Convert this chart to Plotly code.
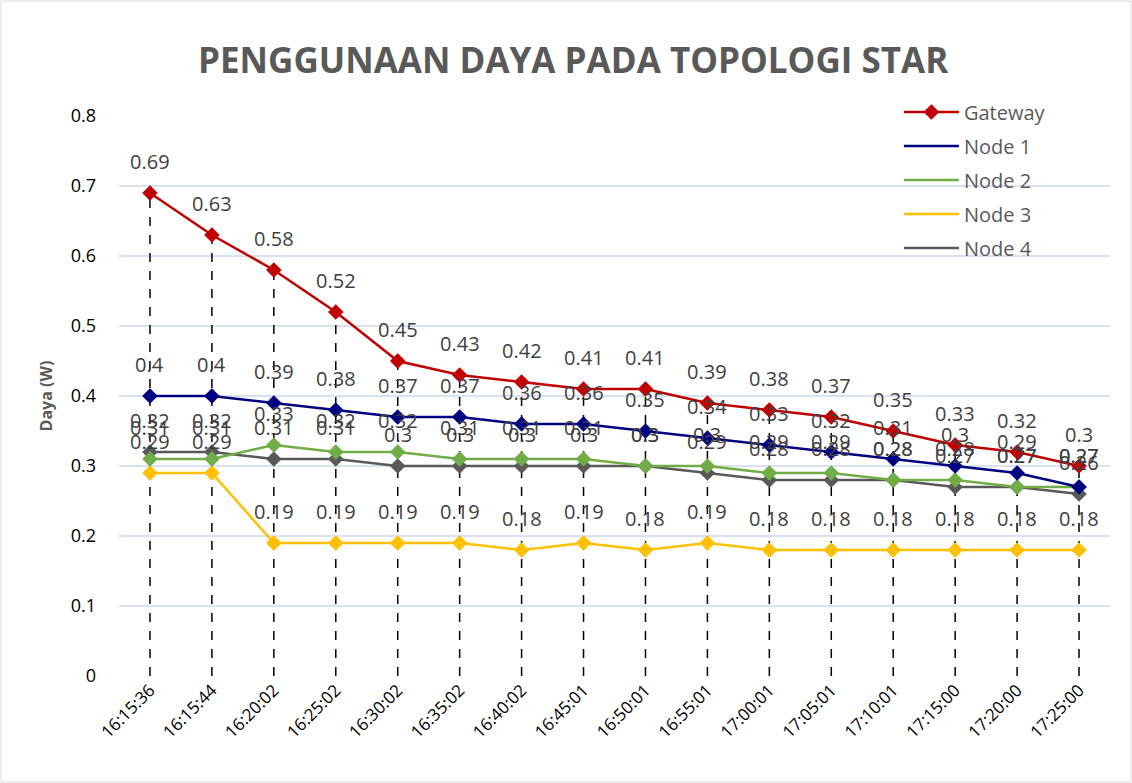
import plotly.graph_objects as go

categories = ["16:15:36", "16:15:44", "16:20:02", "16:25:02", "16:30:02", "16:35:02",
              "16:40:02", "16:45:01", "16:50:01", "16:55:01", "17:00:01", "17:05:01",
              "17:10:01", "17:15:00", "17:20:00", "17:25:00"]
gateway = [0.69, 0.63, 0.58, 0.52, 0.45, 0.43, 0.42, 0.41, 0.41, 0.39, 0.38, 0.37, 0.35, 0.33, 0.32, 0.3]
node1 = [0.4, 0.4, 0.39, 0.38, 0.37, 0.37, 0.36, 0.36, 0.35, 0.34, 0.33, 0.32, 0.31, 0.3, 0.29, 0.27]
node2 = [0.31, 0.31, 0.33, 0.32, 0.32, 0.31, 0.31, 0.31, 0.3, 0.3, 0.29, 0.29, 0.28, 0.28, 0.27, 0.27]
node3 = [0.29, 0.29, 0.19, 0.19, 0.19, 0.19, 0.18, 0.19, 0.18, 0.19, 0.18, 0.18, 0.18, 0.18, 0.18, 0.18]
node4 = [0.32, 0.32, 0.31, 0.31, 0.3, 0.3, 0.3, 0.3, 0.3, 0.29, 0.28, 0.28, 0.28, 0.27, 0.27, 0.26]
y_ticks = [0, 0.1, 0.2, 0.3, 0.4, 0.5, 0.6, 0.7, 0.8]

series = [
    ("Gateway", gateway, "#C00000"),
    ("Node 1", node1, "#000080"),
    ("Node 2", node2, "#70AD47"),
    ("Node 3", node3, "#FFC000"),
    ("Node 4", node4, "#595959"),
]

W, H = 1132, 783
ML, MR, MT, MB = 119, 22, 116, 107
FONT = "Open Sans"

fig = go.Figure()

# drop lines (from highest point down to axis)
dx, dy = [], []
for i, c in enumerate(categories):
    top = max(s[1][i] for s in series)
    dx += [c, c, None]
    dy += [0, top, None]
fig.add_trace(go.Scatter(x=dx, y=dy, mode="lines", showlegend=False, hoverinfo="skip",
                         line=dict(color="black", width=1.5, dash="dash")))

# series drawn bottom-up so Gateway on top
for name, vals, col in reversed(series):
    fig.add_trace(go.Scatter(x=categories, y=vals, mode="lines+markers", name=name,
                             showlegend=False,
                             line=dict(color=col, width=2.5),
                             marker=dict(symbol="diamond", size=12, color=col)))

# legend entries
for name, vals, col in series:
    fig.add_trace(go.Scatter(x=[None], y=[None], name=name, legendgroup=name,
                             mode="lines+markers" if name == "Gateway" else "lines",
                             line=dict(color=col, width=2.5),
                             marker=dict(symbol="diamond", size=12, color=col)))

annotations = []
for name, vals, col in series:
    for c, v in zip(categories, vals):
        annotations.append(dict(x=c, y=v, xref="x", yref="y", text=f"{v:g}",
                                showarrow=False, yanchor="middle", yshift=32,
                                font=dict(family=FONT, size=20, color="#404040")))

annotations.append(dict(text="<b>PENGGUNAAN DAYA PADA TOPOLOGI STAR</b>", xref="paper", yref="paper",
                        x=(573 - ML) / (W - ML - MR), y=1 + (116 - 60) / (H - MT - MB),
                        showarrow=False, xanchor="center", yanchor="middle",
                        font=dict(family=FONT, size=35, color="#595959")))

pw, ph = W - ML - MR, H - MT - MB
shapes = [dict(type="rect", xref="paper", yref="paper",
               x0=(1 - ML) / pw, x1=(W - 1 - ML) / pw,
               y0=-(H - 1 - MT - ph) / ph, y1=1 + (MT - 1) / ph,
               line=dict(color="#d9d9d9", width=1), layer="below")]

fig.update_layout(
    width=W, height=H,
    margin=dict(l=ML, r=MR, t=MT, b=MB),
    paper_bgcolor="white", plot_bgcolor="white",
    font=dict(family=FONT, color="#000000"),
    annotations=annotations,
    shapes=shapes,
    legend=dict(x=0.787, y=1.042, xanchor="left", yanchor="top",
                bgcolor="rgba(0,0,0,0)", font=dict(family=FONT, size=20, color="#595959"),
                tracegroupgap=5, itemwidth=55),
    xaxis=dict(type="category", categoryorder="array", categoryarray=categories,
               range=[-0.5, len(categories) - 0.5], tickangle=-45,
               tickfont=dict(family=FONT, size=17, color="#000000"),
               showgrid=False, zeroline=False, showline=False, ticks=""),
    yaxis=dict(range=[0, 0.8], tickvals=y_ticks, ticktext=[f"{t:g}" for t in y_ticks],
               tickfont=dict(family=FONT, size=18, color="#000000"),
               ticklabelstandoff=22,
               gridcolor="#D9E1F2", gridwidth=1.5, zeroline=False, showline=False,
               title=dict(text="<b>Daya (W)</b>", font=dict(family=FONT, size=16, color="#595959"),
                          standoff=14)),
)

fig.write_html("out.html", config={"displayModeBar": False},
               post_script="document.body.style.margin='0';document.body.style.padding='0';")
